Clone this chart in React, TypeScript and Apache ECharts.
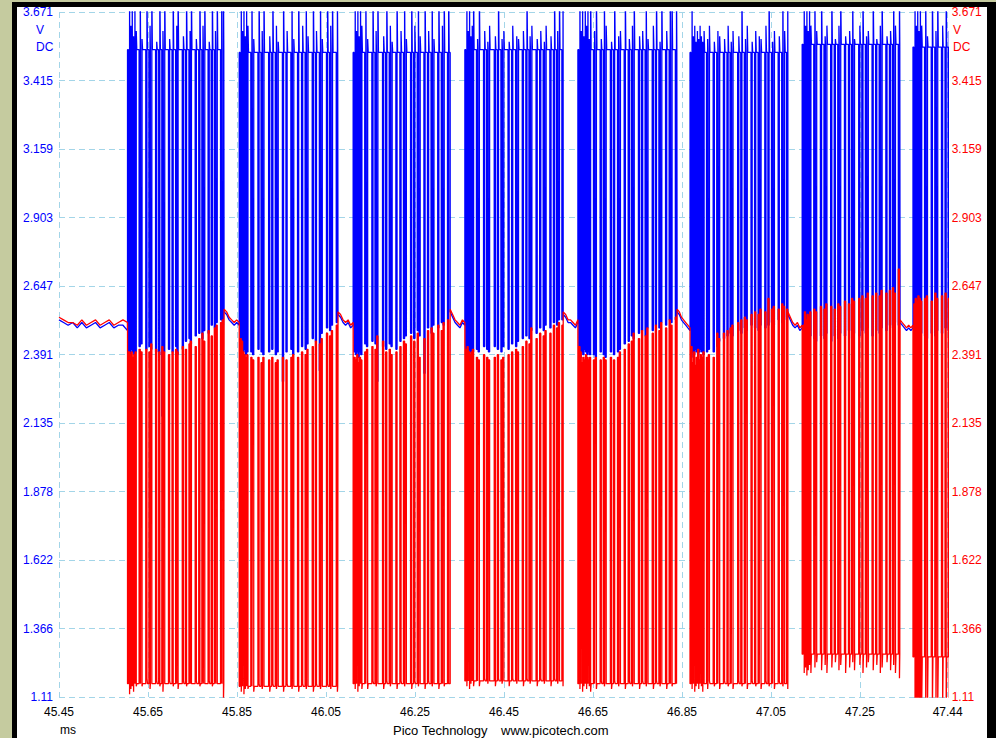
import React, { useEffect, useRef } from "react";
import * as echarts from "echarts";

// ---- axis ticks ----
const X_TICKS = ["45.45", "45.65", "45.85", "46.05", "46.25", "46.45", "46.65", "46.85", "47.05", "47.25", "47.44"];
const Y_TICKS = ["1.11", "1.366", "1.622", "1.878", "2.135", "2.391", "2.647", "2.903", "3.159", "3.415", "3.671"];
const X_START = 45.45;
const X_END = 47.447;
const X_STEP = 0.2;
const Y_MIN = 1.11;
const Y_STEP = 0.2561;

// ---- bursts: [start ms, end ms, blue dominant level, red dominant level] ----
const BURSTS = [
  [45.604, 45.821, 3.53, 1.16],
  [45.855, 46.077, 3.52, 1.15],
  [46.111, 46.329, 3.52, 1.16],
  [46.362, 46.583, 3.53, 1.17],
  [46.616, 46.839, 3.53, 1.16],
  [46.868, 47.088, 3.52, 1.16],
  [47.120, 47.340, 3.55, 1.27],
  [47.369, 47.470, 3.54, 1.26],
];

// ---- pulses: [time ms, blue low, blue peak, red high, red low] ----
const PULSES_1 = [
  [45.606, 2.40, 3.75, 2.40, 1.12], [45.609, 2.39, 3.62, 2.39, 1.14], [45.612, 2.41, 3.75, 2.40, 1.15],
  [45.615, 2.40, 3.58, 2.38, 1.13], [45.618, 2.39, 3.75, 2.39, 1.17], [45.621, 2.40, 3.60, 2.40, 1.15],
  [45.630, 2.42, 3.75, 2.41, 1.17], [45.634, 2.43, 3.57, 2.40, 1.15], [45.645, 2.41, 3.75, 2.41, 1.18],
  [45.652, 2.42, 3.62, 2.40, 1.14], [45.656, 2.41, 3.75, 2.43, 1.16], [45.667, 2.40, 3.56, 2.41, 1.17],
  [45.674, 2.39, 3.75, 2.40, 1.15], [45.681, 2.16, 3.60, 2.42, 1.13], [45.685, 2.40, 3.75, 2.40, 1.16],
  [45.696, 2.41, 3.57, 2.39, 1.17], [45.704, 2.40, 3.75, 2.40, 1.15], [45.712, 2.42, 3.62, 2.41, 1.16],
  [45.715, 2.39, 3.75, 2.40, 1.14], [45.727, 2.41, 3.58, 2.42, 1.17], [45.734, 2.44, 3.75, 2.41, 1.15],
  [45.742, 2.45, 3.60, 2.43, 1.18], [45.745, 2.43, 3.75, 2.44, 1.16], [45.756, 2.46, 3.57, 2.42, 1.17],
  [45.764, 2.47, 3.75, 2.45, 1.15], [45.771, 2.45, 3.62, 2.47, 1.18], [45.775, 2.48, 3.75, 2.44, 1.16],
  [45.785, 2.47, 3.56, 2.48, 1.17], [45.792, 2.50, 3.75, 2.46, 1.15], [45.799, 2.49, 3.60, 2.49, 1.18],
  [45.803, 2.51, 3.75, 2.50, 1.16], [45.813, 2.52, 3.75, 2.51, 1.17], [45.817, 2.50, 3.75, 2.52, 1.10],
];
const PULSES_2 = [
  [45.857, 2.40, 3.75, 2.45, 1.13], [45.860, 2.39, 3.60, 2.44, 1.15], [45.863, 2.40, 3.75, 2.40, 1.12],
  [45.866, 2.41, 3.58, 2.39, 1.14], [45.869, 2.39, 3.75, 2.38, 1.16], [45.872, 2.40, 3.62, 2.39, 1.14],
  [45.881, 2.40, 3.75, 2.38, 1.15], [45.885, 2.39, 3.57, 2.37, 1.13], [45.897, 2.41, 3.75, 2.38, 1.16],
  [45.904, 2.40, 3.60, 2.36, 1.14], [45.908, 2.39, 3.75, 2.38, 1.15], [45.921, 2.40, 3.58, 2.37, 1.13],
  [45.928, 2.41, 3.75, 2.38, 1.16], [45.936, 2.39, 3.62, 2.36, 1.14], [45.940, 2.40, 3.56, 2.37, 1.15],
  [45.952, 2.29, 3.75, 2.38, 1.13], [45.960, 2.40, 3.60, 2.37, 1.16], [45.971, 2.41, 3.75, 2.38, 1.14],
  [45.975, 2.39, 3.57, 2.39, 1.15], [45.986, 2.40, 3.75, 2.38, 1.13], [45.995, 2.42, 3.62, 2.40, 1.16],
  [46.003, 2.41, 3.75, 2.39, 1.14], [46.007, 2.43, 3.58, 2.41, 1.15], [46.019, 2.45, 3.75, 2.42, 1.13],
  [46.026, 2.44, 3.60, 2.44, 1.16], [46.035, 2.33, 3.75, 2.43, 1.14], [46.039, 2.47, 3.57, 2.45, 1.15],
  [46.051, 2.49, 3.75, 2.47, 1.16], [46.058, 2.48, 3.62, 2.46, 1.14], [46.062, 2.50, 3.75, 2.48, 1.15],
  [46.073, 2.51, 3.75, 2.50, 1.13],
];
const PULSES_3 = [
  [46.113, 2.40, 3.75, 2.38, 1.14], [46.116, 2.39, 3.60, 2.37, 1.16], [46.119, 2.40, 3.75, 2.39, 1.13],
  [46.122, 2.38, 3.58, 2.36, 1.15], [46.125, 2.40, 3.75, 2.38, 1.17], [46.128, 2.39, 3.62, 2.37, 1.14],
  [46.137, 2.43, 3.75, 2.40, 1.16], [46.141, 2.42, 3.57, 2.41, 1.14], [46.153, 2.44, 3.75, 2.42, 1.17],
  [46.160, 2.43, 3.60, 2.41, 1.15], [46.164, 2.29, 3.75, 2.46, 1.16], [46.177, 2.42, 3.58, 2.44, 1.14],
  [46.184, 2.41, 3.75, 2.40, 1.17], [46.192, 2.43, 3.62, 2.41, 1.15], [46.196, 2.42, 3.56, 2.39, 1.16],
  [46.207, 2.41, 3.75, 2.40, 1.14], [46.216, 2.44, 3.60, 2.42, 1.17], [46.224, 2.45, 3.75, 2.44, 1.15],
  [46.228, 2.46, 3.57, 2.43, 1.16], [46.240, 2.47, 3.75, 2.46, 1.14], [46.247, 2.45, 3.62, 2.44, 1.17],
  [46.255, 2.48, 3.75, 2.47, 1.15], [46.259, 2.46, 3.58, 2.38, 1.16], [46.270, 2.32, 3.75, 2.45, 1.14],
  [46.278, 2.49, 3.60, 2.48, 1.17], [46.286, 2.47, 3.75, 2.49, 1.15], [46.290, 2.50, 3.57, 2.47, 1.16],
  [46.301, 2.49, 3.75, 2.50, 1.14], [46.309, 2.51, 3.62, 2.48, 1.17], [46.313, 2.50, 3.75, 2.51, 1.15],
  [46.323, 2.52, 3.75, 2.52, 1.16],
];
const PULSES_4 = [
  [46.364, 2.40, 3.75, 2.41, 1.15], [46.367, 2.39, 3.60, 2.42, 1.17], [46.370, 2.41, 3.75, 2.40, 1.14],
  [46.373, 2.40, 3.58, 2.39, 1.16], [46.376, 2.39, 3.62, 2.40, 1.18], [46.379, 2.40, 3.75, 2.41, 1.15],
  [46.388, 2.41, 3.57, 2.38, 1.17], [46.392, 2.40, 3.75, 2.37, 1.15], [46.404, 2.42, 3.60, 2.39, 1.18],
  [46.411, 2.41, 3.56, 2.38, 1.16], [46.415, 2.40, 3.62, 2.37, 1.17], [46.428, 2.42, 3.58, 2.38, 1.15],
  [46.435, 2.41, 3.75, 2.39, 1.18], [46.443, 2.40, 3.57, 2.37, 1.16], [46.447, 2.42, 3.60, 2.38, 1.17],
  [46.459, 2.41, 3.56, 2.39, 1.15], [46.467, 2.43, 3.62, 2.40, 1.18], [46.476, 2.42, 3.58, 2.41, 1.16],
  [46.480, 2.44, 3.57, 2.40, 1.17], [46.491, 2.45, 3.60, 2.42, 1.15], [46.499, 2.46, 3.75, 2.44, 1.18],
  [46.506, 2.45, 3.58, 2.43, 1.16], [46.510, 2.48, 3.62, 2.49, 1.17], [46.522, 2.47, 3.57, 2.45, 1.15],
  [46.530, 2.49, 3.60, 2.47, 1.18], [46.538, 2.48, 3.56, 2.46, 1.16], [46.542, 2.50, 3.62, 2.48, 1.17],
  [46.553, 2.49, 3.58, 2.47, 1.15], [46.561, 2.51, 3.75, 2.50, 1.18], [46.568, 2.50, 3.60, 2.49, 1.16],
  [46.572, 2.52, 3.75, 2.51, 1.17], [46.580, 2.52, 3.75, 2.50, 1.15],
];
const PULSES_5 = [
  [46.618, 2.30, 3.75, 2.42, 1.14], [46.621, 2.38, 3.60, 2.40, 1.16], [46.624, 2.40, 3.75, 2.36, 1.13],
  [46.627, 2.39, 3.58, 2.38, 1.15], [46.630, 2.41, 3.75, 2.37, 1.17], [46.633, 2.40, 3.62, 2.39, 1.14],
  [46.636, 2.39, 3.75, 2.38, 1.16], [46.639, 2.40, 3.57, 2.37, 1.15], [46.642, 2.39, 3.75, 2.38, 1.13],
  [46.651, 2.39, 3.60, 2.37, 1.16], [46.655, 2.38, 3.75, 2.38, 1.14], [46.666, 2.40, 3.57, 2.37, 1.17],
  [46.673, 2.39, 3.75, 2.38, 1.15], [46.677, 2.38, 3.62, 2.37, 1.16], [46.689, 2.40, 3.56, 2.38, 1.14],
  [46.696, 2.39, 3.75, 2.37, 1.17], [46.705, 2.40, 3.58, 2.38, 1.15], [46.709, 2.41, 3.60, 2.40, 1.16],
  [46.720, 2.43, 3.75, 2.41, 1.14], [46.729, 2.44, 3.57, 2.43, 1.17], [46.736, 2.46, 3.62, 2.44, 1.15],
  [46.740, 2.45, 3.75, 2.47, 1.16], [46.752, 2.47, 3.58, 2.45, 1.14], [46.759, 2.48, 3.60, 2.48, 1.17],
  [46.767, 2.46, 3.75, 2.46, 1.15], [46.771, 2.49, 3.57, 2.49, 1.16], [46.783, 2.48, 3.62, 2.47, 1.14],
  [46.790, 2.50, 3.75, 2.50, 1.17], [46.798, 2.49, 3.56, 2.48, 1.15], [46.802, 2.51, 3.75, 2.51, 1.16],
  [46.813, 2.50, 3.60, 2.49, 1.14], [46.821, 2.52, 3.75, 2.52, 1.17], [46.825, 2.51, 3.75, 2.50, 1.15],
  [46.835, 2.52, 3.75, 2.53, 1.16],
];
const PULSES_6 = [
  [46.870, 2.38, 3.75, 2.42, 1.14], [46.873, 2.40, 3.58, 2.36, 1.16], [46.876, 2.39, 3.62, 2.40, 1.13],
  [46.879, 2.41, 3.56, 2.35, 1.15], [46.882, 2.40, 3.60, 2.38, 1.17], [46.885, 2.39, 3.57, 2.41, 1.14],
  [46.888, 2.40, 3.62, 2.37, 1.16], [46.891, 2.41, 3.58, 2.39, 1.15], [46.894, 2.40, 3.56, 2.38, 1.13],
  [46.897, 2.39, 3.60, 2.40, 1.16], [46.905, 2.40, 3.57, 2.38, 1.14], [46.909, 2.41, 3.62, 2.39, 1.17],
  [46.920, 2.40, 3.56, 2.38, 1.15], [46.928, 2.42, 3.60, 2.47, 1.16], [46.932, 2.44, 3.58, 2.45, 1.14],
  [46.943, 2.45, 3.57, 2.47, 1.17], [46.951, 2.46, 3.62, 2.48, 1.15], [46.958, 2.47, 3.56, 2.49, 1.16],
  [46.962, 2.46, 3.60, 2.50, 1.14], [46.975, 2.48, 3.58, 2.51, 1.17], [46.982, 2.47, 3.75, 2.52, 1.15],
  [46.990, 2.49, 3.57, 2.53, 1.16], [46.994, 2.48, 3.62, 2.52, 1.14], [47.005, 2.50, 3.56, 2.54, 1.17],
  [47.013, 2.49, 3.60, 2.55, 1.15], [47.021, 2.48, 3.58, 2.54, 1.16], [47.025, 2.50, 3.57, 2.56, 1.14],
  [47.036, 2.49, 3.62, 2.55, 1.17], [47.043, 2.50, 3.75, 2.60, 1.15], [47.051, 2.51, 3.56, 2.56, 1.16],
  [47.055, 2.50, 3.60, 2.57, 1.14], [47.066, 2.52, 3.58, 2.56, 1.17], [47.074, 2.51, 3.75, 2.58, 1.15],
  [47.078, 2.52, 3.60, 2.57, 1.16], [47.085, 2.53, 3.75, 2.56, 1.14],
];
const PULSES_7 = [
  [47.122, 2.45, 3.75, 2.50, 1.20], [47.125, 2.44, 3.62, 2.55, 1.22], [47.128, 2.46, 3.75, 2.52, 1.19],
  [47.131, 2.45, 3.60, 2.54, 1.21], [47.134, 2.44, 3.75, 2.53, 1.23], [47.137, 2.46, 3.62, 2.55, 1.20],
  [47.146, 2.45, 3.75, 2.56, 1.22], [47.150, 2.44, 3.60, 2.55, 1.24], [47.161, 2.46, 3.75, 2.57, 1.21],
  [47.169, 2.45, 3.58, 2.56, 1.23], [47.173, 2.47, 3.62, 2.58, 1.20], [47.184, 2.44, 3.75, 2.57, 1.22],
  [47.192, 2.46, 3.57, 2.56, 1.24], [47.200, 2.45, 3.62, 2.58, 1.21], [47.204, 2.47, 3.75, 2.57, 1.23],
  [47.215, 2.46, 3.58, 2.59, 1.20], [47.224, 2.48, 3.60, 2.58, 1.22], [47.231, 2.45, 3.75, 2.60, 1.24],
  [47.235, 2.47, 3.57, 2.59, 1.21], [47.247, 2.46, 3.62, 2.60, 1.23], [47.254, 2.48, 3.75, 2.61, 1.20],
  [47.262, 2.47, 3.58, 2.60, 1.22], [47.266, 2.49, 3.60, 2.62, 1.24], [47.277, 2.46, 3.75, 2.61, 1.21],
  [47.285, 2.48, 3.57, 2.62, 1.23], [47.293, 2.47, 3.62, 2.61, 1.20], [47.297, 2.49, 3.75, 2.63, 1.22],
  [47.308, 2.48, 3.58, 2.62, 1.24], [47.316, 2.50, 3.60, 2.63, 1.21], [47.323, 2.49, 3.75, 2.64, 1.23],
  [47.327, 2.51, 3.62, 2.62, 1.20], [47.336, 2.50, 3.75, 2.71, 1.18],
];
const PULSES_8 = [
  [47.371, 2.46, 3.75, 2.58, 1.06], [47.374, 2.45, 3.62, 2.60, 1.08], [47.377, 2.47, 3.75, 2.59, 1.05],
  [47.380, 2.46, 3.60, 2.61, 1.07], [47.383, 2.45, 3.75, 2.60, 1.06], [47.386, 2.47, 3.62, 2.59, 1.08],
  [47.395, 2.46, 3.75, 2.60, 1.05], [47.399, 2.45, 3.58, 2.61, 1.07], [47.410, 2.47, 3.75, 2.59, 1.06],
  [47.418, 2.46, 3.60, 2.62, 1.05], [47.422, 2.48, 3.75, 2.60, 1.07], [47.433, 2.47, 3.62, 2.61, 1.06],
  [47.441, 2.49, 3.75, 2.62, 1.05], [47.448, 2.48, 3.60, 2.60, 1.07],
];
const PULSES = [PULSES_1, PULSES_2, PULSES_3, PULSES_4, PULSES_5, PULSES_6, PULSES_7, PULSES_8];

// ---- idle levels ----
const LEAD_BLUE = [2.52, 2.51, 2.50, 2.51, 2.49, 2.51, 2.49, 2.50, 2.51, 2.49, 2.50, 2.51, 2.49, 2.50, 2.50, 2.48];
const LEAD_RED = [2.53, 2.52, 2.51, 2.51, 2.50, 2.52, 2.50, 2.51, 2.52, 2.50, 2.51, 2.52, 2.50, 2.51, 2.52, 2.51];
const GAP_BLUE = [
  [2.55, 2.54, 2.52, 2.51, 2.50, 2.51, 2.50],
  [2.54, 2.53, 2.51, 2.50, 2.51, 2.49, 2.50],
  [2.55, 2.53, 2.51, 2.50, 2.49, 2.51, 2.50],
  [2.54, 2.53, 2.51, 2.51, 2.50, 2.49, 2.51],
  [2.55, 2.54, 2.52, 2.51, 2.50, 2.49, 2.48],
  [2.54, 2.52, 2.50, 2.49, 2.50, 2.48, 2.49],
  [2.51, 2.50, 2.49, 2.48, 2.49, 2.48, 2.49],
];
const GAP_RED = [
  [2.56, 2.55, 2.53, 2.52, 2.51, 2.52, 2.51],
  [2.55, 2.54, 2.52, 2.51, 2.52, 2.50, 2.51],
  [2.56, 2.54, 2.52, 2.51, 2.50, 2.52, 2.51],
  [2.55, 2.54, 2.52, 2.52, 2.51, 2.50, 2.52],
  [2.56, 2.55, 2.53, 2.52, 2.51, 2.50, 2.49],
  [2.55, 2.53, 2.51, 2.50, 2.51, 2.49, 2.50],
  [2.52, 2.51, 2.50, 2.49, 2.50, 2.49, 2.50],
];

const BLUE = "#0000ff";
const RED = "#ff0000";
const GRID_COLOR = "#a3d5e8";
const FONT = "'Liberation Sans', Arial, sans-serif";
const PULSE_W = 0.0026;

const toX = (t: number) => (t - X_START) / X_STEP;
const toY = (v: number) => (v - Y_MIN) / Y_STEP;

function buildTraces() {
  const blue: number[][] = [];
  const red: number[][] = [];
  const pb = (t: number, v: number) => blue.push([toX(t), toY(v)]);
  const pr = (t: number, v: number) => red.push([toX(t), toY(v)]);
  const firstStart = BURSTS[0][0];
  LEAD_BLUE.forEach((v, i) => pb(X_START + ((firstStart - X_START) * i) / (LEAD_BLUE.length - 1), v));
  LEAD_RED.forEach((v, i) => pr(X_START + ((firstStart - X_START) * i) / (LEAD_RED.length - 1), v));
  BURSTS.forEach(([start, end, bD, rD], k) => {
    const pulses = PULSES[k];
    pb(start, bD);
    pr(start, rD);
    pulses.forEach(([t, bl, bp, rh, rl], i) => {
      const next = i + 1 < pulses.length ? pulses[i + 1][0] : end;
      const settle = t + PULSE_W + Math.min(0.0012, Math.max(0.0001, (next - t - PULSE_W) / 2));
      pb(t, bD); pb(t, bl); pb(t + PULSE_W, bl); pb(t + PULSE_W, bp); pb(settle, bD);
      pr(t, rD); pr(t, rh); pr(t + PULSE_W, rh); pr(t + PULSE_W, rl); pr(settle, rD);
    });
    pb(end, bD);
    pr(end, rD);
    if (k < GAP_BLUE.length) {
      const nextStart = BURSTS[k + 1][0];
      const gb = GAP_BLUE[k];
      const gr = GAP_RED[k];
      gb.forEach((v, i) => pb(end + ((nextStart - end) * i) / (gb.length - 1), v));
      gr.forEach((v, i) => pr(end + ((nextStart - end) * i) / (gr.length - 1), v));
    }
  });
  return { blue, red };
}

export default function App() {
  const ref = useRef<HTMLDivElement>(null);
  useEffect(() => {
    if (!ref.current) return;
    const chart = echarts.init(ref.current, undefined, { renderer: "svg" });
    const { blue, red } = buildTraces();
    const xMax = toX(X_END);
    const splitStyle = { show: true, lineStyle: { color: GRID_COLOR, type: [6, 4] as any, width: 1 } };
    chart.setOption({
      animation: false,
      backgroundColor: "transparent",
      grid: { left: 59, top: 12, width: 888.7, height: 685, containLabel: false },
      xAxis: {
        type: "value",
        min: 0,
        max: xMax,
        interval: 1,
        axisLine: { show: false },
        axisTick: { show: false },
        splitLine: splitStyle,
        axisLabel: {
          color: "#000",
          fontSize: 12,
          fontFamily: FONT,
          margin: 9,
          formatter: (v: number) => X_TICKS[Math.round(v)] ?? "",
        },
      },
      yAxis: [
        {
          type: "value",
          min: 0,
          max: 10,
          interval: 1,
          position: "left",
          axisLine: { show: false },
          axisTick: { show: false },
          splitLine: splitStyle,
          axisLabel: {
            color: BLUE,
            fontSize: 12,
            fontFamily: FONT,
            margin: 6,
            formatter: (v: number) => Y_TICKS[Math.round(v)] ?? "",
          },
        },
        {
          type: "value",
          min: 0,
          max: 10,
          interval: 1,
          position: "right",
          axisLine: { show: false },
          axisTick: { show: false },
          splitLine: { show: false },
          axisLabel: {
            color: RED,
            fontSize: 12,
            fontFamily: FONT,
            margin: 4,
            formatter: (v: number) => Y_TICKS[Math.round(v)] ?? "",
          },
        },
      ],
      series: [
        {
          type: "line",
          data: blue,
          showSymbol: false,
          symbol: "none",
          clip: true,
          lineStyle: { color: BLUE, width: 1.3 },
          silent: true,
        },
        {
          type: "line",
          data: red,
          showSymbol: false,
          symbol: "none",
          clip: true,
          lineStyle: { color: RED, width: 1.3 },
          silent: true,
        },
      ],
      graphic: [
        { type: "text", left: 36, top: 24, style: { text: "V", fill: BLUE, font: `12px ${FONT}` } },
        { type: "text", left: 36, top: 41, style: { text: "DC", fill: BLUE, font: `12px ${FONT}` } },
        { type: "text", left: 953, top: 24, style: { text: "V", fill: RED, font: `12px ${FONT}` } },
        { type: "text", left: 953, top: 41, style: { text: "DC", fill: RED, font: `12px ${FONT}` } },
        { type: "text", left: 60, top: 724, style: { text: "ms", fill: "#000", font: `12px ${FONT}` } },
        { type: "text", left: 393, top: 724, style: { text: "Pico Technology", fill: "#000", font: `13px ${FONT}` } },
        { type: "text", left: 501, top: 724, style: { text: "www.picotech.com", fill: "#000", font: `13px ${FONT}` } },
      ],
    });
    return () => chart.dispose();
  }, []);

  return (
    <div style={{ position: "absolute", left: 0, top: 0, width: 996, height: 738, background: "#c5cb9f", overflow: "hidden" }}>
      <div style={{ position: "absolute", left: 12, top: 2, width: 984, height: 740, background: "#000" }} />
      <div style={{ position: "absolute", left: 17, top: 7, width: 970, height: 740, background: "#fff" }} />
      <div ref={ref} style={{ position: "absolute", left: 0, top: 0, width: 996, height: 738 }} />
    </div>
  );
}
